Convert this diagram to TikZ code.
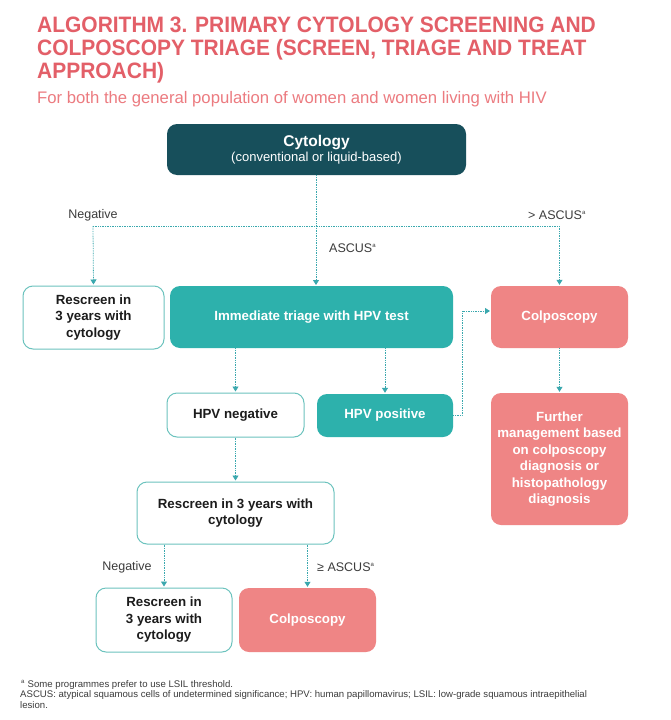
\documentclass[tikz,border=0pt]{standalone}
\usepackage{fontspec}
\setmainfont{Liberation Sans}
\newfontfamily\titlefont[FakeStretch=0.94]{Liberation Sans}
\usetikzlibrary{arrows.meta}
\definecolor{titleC}{HTML}{E35F68}
\definecolor{subC}{HTML}{EC7B80}
\definecolor{darkT}{HTML}{174F5B}
\definecolor{tealT}{HTML}{2DB1AC}
\definecolor{pinkT}{HTML}{EF8585}
\definecolor{borderT}{HTML}{6CC3BE}
\definecolor{lineC}{HTML}{3AA8AE}
\definecolor{txtC}{HTML}{1C1C1C}
\definecolor{lblC}{HTML}{3C3C3C}
\tikzset{
  box/.style={rounded corners=10pt, align=center, inner sep=0pt,
    font=\bfseries\fontsize{13.3}{16.5}\selectfont},
  wbox/.style={box, draw=borderT, line width=1pt, fill=white, text=txtC},
  tbox/.style={box, fill=tealT, text=white},
  pbox/.style={box, fill=pinkT, text=white},
  dbox/.style={box, fill=darkT, text=white},
  conn/.style={draw=lineC, line width=0.8pt, dash pattern=on 0.8pt off 0.9pt},
  arr/.style={conn, -{Triangle[width=6pt,length=5pt]}, shorten >=1pt},
  lbl/.style={text=lblC, font=\fontsize{12.5}{14}\selectfont, inner sep=0pt},
  foot/.style={text=lblC, font=\fontsize{9.6}{10}\selectfont, inner sep=0pt, anchor=base west},
}
\newcommand{\supa}{\textsuperscript{\fontsize{6}{6}\selectfont a}}
\begin{document}
\begin{tikzpicture}[x=1pt,y=-1pt]
\useasboundingbox (0,0) rectangle (670,720);
\fill[white] (0,0) rectangle (670,720);
% title
\node[anchor=base west, inner sep=0pt, text=titleC, font=\titlefont\bfseries\fontsize{22.3}{23}\selectfont] (t1) at (37,32) {ALGORITHM 3. PRIMARY CYTOLOGY SCREENING AND};
\node[anchor=base west, inner sep=0pt, text=titleC, font=\titlefont\bfseries\fontsize{22.3}{23}\selectfont] (t2) at (37,55) {COLPOSCOPY TRIAGE (SCREEN, TRIAGE AND TREAT};
\node[anchor=base west, inner sep=0pt, text=titleC, font=\titlefont\bfseries\fontsize{22.3}{23}\selectfont] (t3) at (37,78) {APPROACH)};
\node[anchor=base west, inner sep=0pt, text=subC, font=\fontsize{16.7}{18}\selectfont] (sub) at (37,103) {For both the general population of women and women living with HIV};
% boxes
\node[dbox, minimum width=299pt, minimum height=51pt] (cyt) at (316.5,149.5) {{\fontsize{15.5}{17}\selectfont Cytology}\\[-1pt]{\mdseries\fontsize{13}{15}\selectfont (conventional or liquid-based)}};
\node[wbox, minimum width=141pt, minimum height=63pt] (rs1) at (93.5,317.5) {Rescreen in\\3 years with\\cytology};
\node[tbox, minimum width=283pt, minimum height=62pt] (tri) at (311.5,317) {Immediate triage with HPV test};
\node[pbox, minimum width=137pt, minimum height=62pt] (colp) at (559.5,317) {Colposcopy};
\node[wbox, minimum width=137pt, minimum height=44pt] (hneg) at (235.5,415) {HPV negative};
\node[tbox, minimum width=136pt, minimum height=43pt] (hpos) at (385,415.5) {HPV positive};
\node[pbox, minimum width=137pt, minimum height=132pt] (fur) at (559.5,459) {Further\\management based\\on colposcopy\\diagnosis or\\histopathology\\diagnosis};
\node[wbox, minimum width=197pt, minimum height=62pt] (rs2) at (235.5,513) {Rescreen in 3 years with\\cytology};
\node[wbox, minimum width=136pt, minimum height=64pt] (rs3) at (164,620) {Rescreen in\\3 years with\\cytology};
\node[pbox, minimum width=137pt, minimum height=64pt] (colp2) at (307.5,620) {Colposcopy};
% connector points
\coordinate (jl) at (93,226);
\coordinate (jr) at (559.5,226);
\coordinate (jc) at (316,226);
\coordinate (tt) at (316,286);
\coordinate (e1) at (462,415.5);
\coordinate (e2) at (462,311);
\coordinate (ce) at (491,311);
% connectors
\draw[arr] (cyt.south -| jc) -- (tt);
\draw[conn] (jl) -- (jr);
\draw[arr] (jl) -- (rs1.north);
\draw[arr] (jr) -- (colp.north);
\draw[arr] (tri.south -| hneg.north) -- (hneg.north);
\draw[arr] (tri.south -| hpos.north) -- (hpos.north);
\draw[arr] (hpos.east) -- (e1) -- (e2) -- (ce);
\draw[arr] (colp.south) -- (fur.north);
\draw[arr] (hneg.south) -- (rs2.north);
\draw[arr] (rs2.south -| rs3.north) -- (rs3.north);
\draw[arr] (rs2.south -| colp2.north) -- (colp2.north);
% labels
\node[lbl] (lneg) at (93,215) {Negative};
\node[lbl, anchor=west] (lasc) at (329,248) {ASCUS\supa};
\node[lbl] (lgt) at (557,215) {> ASCUS\supa};
\node[lbl] (lneg2) at (127,567) {Negative};
\node[lbl, anchor=west] (lge) at (317,567) {≥ ASCUS\supa};
% footnote
\node[foot] (f1) at (21,687) {\supa\ Some programmes prefer to use LSIL threshold.};
\node[foot] (f2) at (20,697.5) {ASCUS: atypical squamous cells of undetermined significance; HPV: human papillomavirus; LSIL: low-grade squamous intraepithelial};
\node[foot] (f3) at (20,708) {lesion.};
\end{tikzpicture}
\end{document}
